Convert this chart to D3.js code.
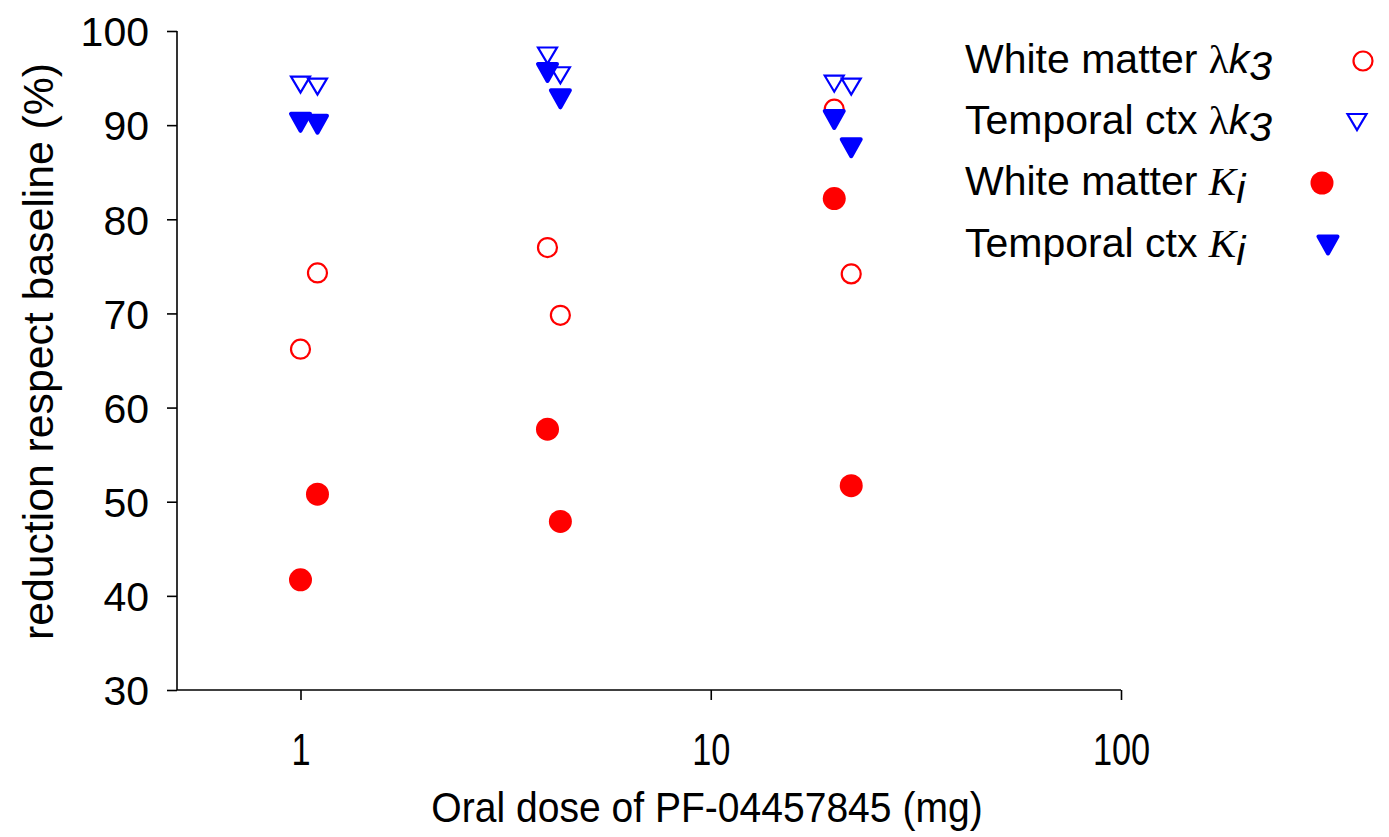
<!DOCTYPE html>
<html>
<head>
<meta charset="utf-8">
<script src="https://cdn.jsdelivr.net/npm/d3@7/dist/d3.min.js"></script>
<style>
  body { margin: 0; background: #fff; }
  svg { display: block; }
  text { font-family: "Liberation Sans", Arial, sans-serif; fill: #000; }
</style>
</head>
<body>
<svg id="chart" width="1389" height="837"></svg>
<script>
// ---- Data ----
const doses = [1.0, 1.1, 4.0, 4.3, 20, 22];
const whiteMatterLk3 = [66.2, 74.3, 77.0, 69.8, 91.7, 74.2];
const temporalLk3    = [94.3, 94.1, 97.4, 95.3, 94.4, 94.1];
const whiteMatterKi  = [41.7, 50.8, 57.7, 47.9, 82.2, 51.7];
const temporalKi     = [90.3, 90.1, 95.6, 92.8, 90.6, 87.6];
const xTicks = [1, 10, 100];
const yTicks = [30, 40, 50, 60, 70, 80, 90, 100];
const xTitle = "Oral dose of PF-04457845 (mg)";
const yTitle = "reduction respect baseline (%)";

const series = [
  { name: "White matter", param: "lk3", values: whiteMatterLk3, shape: "circle", fill: false, color: "#ff0000" },
  { name: "Temporal ctx", param: "lk3", values: temporalLk3, shape: "triangle", fill: false, color: "#0000ff" },
  { name: "White matter", param: "Ki", values: whiteMatterKi, shape: "circle", fill: true, color: "#ff0000" },
  { name: "Temporal ctx", param: "Ki", values: temporalKi, shape: "triangle", fill: true, color: "#0000ff" }
];

const svg = d3.select("#chart");
const x = d3.scaleLog().domain([0.5, 100]).range([177, 1121]);
const y = d3.scaleLinear().domain([30, 100]).range([690, 31]);

// ---- Axes ----
const yAxis = svg.append("g").attr("transform", "translate(177,0)")
  .call(d3.axisLeft(y).tickValues(yTicks).tickSize(10).tickPadding(18).tickFormat(d3.format("d")));
yAxis.select(".domain").attr("stroke", "#000").attr("stroke-width", 1.6).attr("d", "M0,31V690");
yAxis.selectAll(".tick line").attr("stroke", "#000").attr("stroke-width", 1.6);
yAxis.selectAll(".tick text").attr("font-size", 41).attr("fill", "#000")
  .attr("font-family", "Liberation Sans, Arial, sans-serif").attr("dy", "0.36em");

const xAxis = svg.append("g").attr("transform", "translate(0,690)")
  .call(d3.axisBottom(x).tickValues(xTicks).tickSize(10).tickPadding(0).tickFormat(d3.format("d")));
xAxis.select(".domain").attr("stroke", "#000").attr("stroke-width", 1.6).attr("d", "M177,0H1121");
xAxis.selectAll(".tick line").attr("stroke", "#000").attr("stroke-width", 1.6);
xAxis.selectAll(".tick text").attr("font-size", 44).attr("fill", "#000")
  .attr("font-family", "Liberation Sans, Arial, sans-serif")
  .attr("y", 0).attr("dy", 0)
  .attr("transform", "translate(0,75) scale(0.78,1)");

// ---- Titles ----
svg.append("text")
  .attr("transform", "translate(707,822) scale(0.93,1)")
  .attr("text-anchor", "middle")
  .attr("font-size", 42)
  .text(xTitle);

svg.append("text")
  .attr("transform", "translate(53,351.5) rotate(-90)")
  .attr("text-anchor", "middle")
  .attr("font-size", 42)
  .attr("textLength", 577)
  .attr("lengthAdjust", "spacingAndGlyphs")
  .text(yTitle);

// ---- Marker helpers ----
function trianglePath(w, h) {
  return `M${-w/2},${-h/2}L${w/2},${-h/2}L0,${h/2}Z`;
}
function drawMarker(g, s) {
  if (s.shape === "circle") {
    if (s.fill) {
      g.append("circle").attr("r", 11.5).attr("fill", s.color);
    } else {
      g.append("circle").attr("r", 9.5).attr("fill", "none").attr("stroke", s.color).attr("stroke-width", 2.2);
    }
  } else {
    if (s.fill) {
      g.append("path").attr("d", trianglePath(19, 17)).attr("fill", s.color)
        .attr("stroke", s.color).attr("stroke-width", 4).attr("stroke-linejoin", "round");
    } else {
      g.append("path").attr("d", trianglePath(19, 16)).attr("fill", "none")
        .attr("stroke", s.color).attr("stroke-width", 2.2).attr("stroke-linejoin", "miter");
    }
  }
}

// ---- Points ----
series.forEach(s => {
  const g = svg.append("g");
  s.values.forEach((v, i) => {
    const m = g.append("g").attr("transform", `translate(${x(doses[i])},${y(v)})`);
    drawMarker(m, s);
  });
});

// ---- Legend ----
const legendRows = [73, 134, 195, 257];
const legendMarkerX = [1363, 1357, 1322, 1328];
series.forEach((s, i) => {
  const t = svg.append("text").attr("x", 965).attr("y", legendRows[i]).attr("font-size", 41);
  t.append("tspan").text(s.name + " ");
  if (s.param === "lk3") {
    t.append("tspan").attr("font-family", "Liberation Serif, Times New Roman, serif").text("λ");
    t.append("tspan").attr("font-style", "italic").text("k");
    t.append("tspan").attr("font-style", "italic").attr("dy", 7).text("3");
  } else {
    t.append("tspan").attr("font-family", "Liberation Serif, Times New Roman, serif").attr("font-style", "italic").text("K");
    t.append("tspan").attr("font-style", "italic").attr("dy", 8).text("i");
  }
  const m = svg.append("g").attr("transform", `translate(${legendMarkerX[i]},${legendRows[i] - 12})`);
  drawMarker(m, s);
});
</script>
</body>
</html>
